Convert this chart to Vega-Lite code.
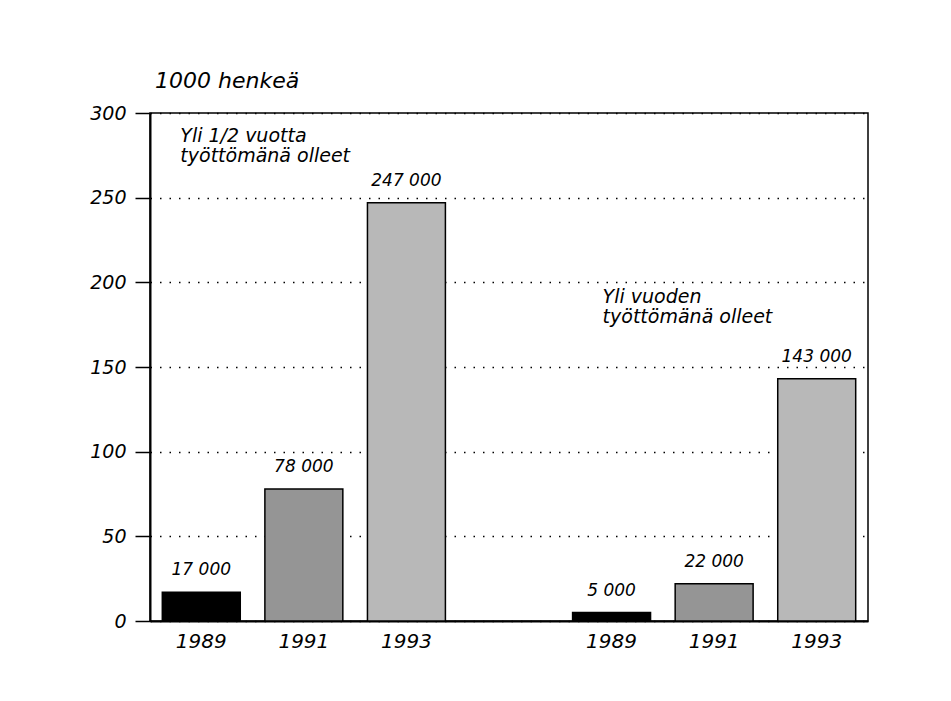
{
  "$schema": "https://vega.github.io/schema/vega-lite/v6.json",
  "width": 718,
  "height": 508,
  "autosize": {"type": "none"},
  "padding": {"left": 150, "top": 113, "right": 83, "bottom": 80},
  "background": "white",
  "config": {
    "font": "DejaVu Sans",
    "view": {"stroke": "black", "strokeWidth": 1.5}
  },
  "title": {
    "text": "1000 henkeä",
    "anchor": "start",
    "frame": "group",
    "font": "DejaVu Sans",
    "fontSize": 22,
    "fontStyle": "italic",
    "fontWeight": "normal",
    "color": "black",
    "baseline": "alphabetic",
    "offset": 25,
    "dx": 5,
    "dy": 31
  },
  "datasets": {
    "bars": [
      {"slot": "1989a", "group": "Yli 1/2 vuotta", "year": "1989", "value": 17, "label": "17 000"},
      {"slot": "1991a", "group": "Yli 1/2 vuotta", "year": "1991", "value": 78, "label": "78 000"},
      {"slot": "1993a", "group": "Yli 1/2 vuotta", "year": "1993", "value": 247, "label": "247 000"},
      {"slot": "1989b", "group": "Yli vuoden", "year": "1989", "value": 5, "label": "5 000"},
      {"slot": "1991b", "group": "Yli vuoden", "year": "1991", "value": 22, "label": "22 000"},
      {"slot": "1993b", "group": "Yli vuoden", "year": "1993", "value": 143, "label": "143 000"}
    ],
    "notes": [
      {"note": 1, "slot": "1989a", "value": 283, "text": ["Yli 1/2 vuotta", "työttömänä olleet"]},
      {"note": 2, "slot": "1989b", "value": 188, "text": ["Yli vuoden", "työttömänä olleet"]}
    ]
  },
  "layer": [
    {
      "data": {"name": "bars"},
      "mark": {"type": "bar", "stroke": "black", "strokeWidth": 1.5},
      "encoding": {
        "x": {
          "field": "slot",
          "type": "nominal",
          "scale": {
            "domain": ["1989a", "1991a", "1993a", "gap", "1989b", "1991b", "1993b"],
            "paddingInner": 0.24,
            "paddingOuter": 0.12
          },
          "axis": {
            "title": null,
            "labelExpr": "datum.label == 'gap' ? '' : slice(datum.label, 0, 4)",
            "labelAngle": 0,
            "labelFont": "DejaVu Sans",
            "labelFontSize": 20,
            "labelFontStyle": "italic",
            "labelColor": "black",
            "labelPadding": 10,
            "ticks": false,
            "domainColor": "black",
            "domainWidth": 2
          }
        },
        "y": {
          "field": "value",
          "type": "quantitative",
          "scale": {"domain": [0, 300], "nice": false},
          "axis": {
            "title": null,
            "values": [0, 50, 100, 150, 200, 250, 300],
            "labelFont": "DejaVu Sans",
            "labelFontSize": 19,
            "labelFontStyle": "italic",
            "labelColor": "black",
            "labelPadding": 9,
            "tickSize": 15,
            "tickColor": "black",
            "tickWidth": 1.5,
            "domainColor": "black",
            "domainWidth": 2,
            "grid": true,
            "gridColor": "black",
            "gridWidth": 1.5,
            "gridDash": [1.5, 8]
          }
        },
        "color": {
          "field": "year",
          "type": "nominal",
          "scale": {"domain": ["1989", "1991", "1993"], "range": ["#000000", "#959595", "#b8b8b8"]},
          "legend": null
        }
      }
    },
    {
      "data": {"name": "bars"},
      "mark": {"type": "text", "baseline": "alphabetic", "dy": -17, "font": "DejaVu Sans", "fontSize": 17, "fontStyle": "italic", "color": "black"},
      "encoding": {
        "x": {"field": "slot", "type": "nominal"},
        "y": {"field": "value", "type": "quantitative"},
        "text": {"field": "label"}
      }
    },
    {
      "data": {"name": "notes"},
      "transform": [{"filter": "datum.note == 1"}],
      "mark": {"type": "text", "align": "left", "baseline": "alphabetic", "dx": 18, "font": "DejaVu Sans", "fontSize": 19, "fontStyle": "italic", "lineHeight": 20, "color": "black"},
      "encoding": {
        "x": {"field": "slot", "type": "nominal", "bandPosition": 0},
        "y": {"field": "value", "type": "quantitative"},
        "text": {"field": "text"}
      }
    },
    {
      "data": {"name": "notes"},
      "transform": [{"filter": "datum.note == 2"}],
      "mark": {"type": "text", "align": "left", "baseline": "alphabetic", "dx": 30, "font": "DejaVu Sans", "fontSize": 19, "fontStyle": "italic", "lineHeight": 20, "color": "black"},
      "encoding": {
        "x": {"field": "slot", "type": "nominal", "bandPosition": 0},
        "y": {"field": "value", "type": "quantitative"},
        "text": {"field": "text"}
      }
    }
  ]
}
